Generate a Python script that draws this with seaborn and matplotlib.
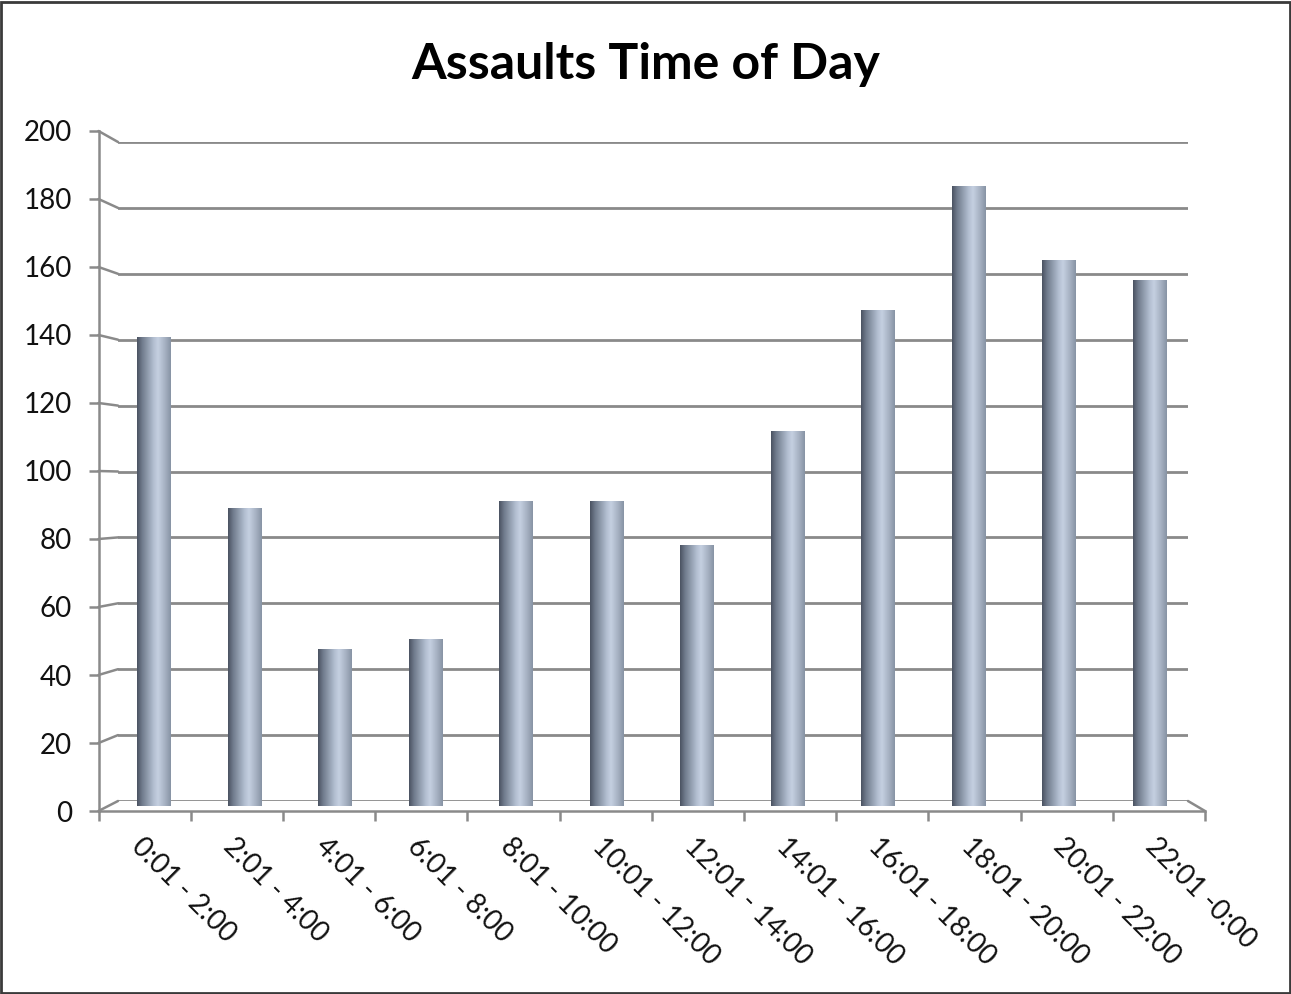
import numpy as np
import pandas as pd
import matplotlib
matplotlib.use('Agg')
import matplotlib.pyplot as plt
import seaborn as sns
from matplotlib.colors import LinearSegmentedColormap
from matplotlib.patches import ConnectionPatch, Rectangle

# data
time_slots = ['0:01 - 2:00', '2:01 - 4:00', '4:01 - 6:00', '6:01 - 8:00', '8:01 - 10:00',
              '10:01 - 12:00', '12:01 - 14:00', '14:01 - 16:00', '16:01 - 18:00',
              '18:01 - 20:00', '20:01 - 22:00', '22:01 -0:00']
assaults = [140, 89, 47, 50, 91, 91, 78, 112, 148, 185, 163, 157]
y_ticks = list(range(0, 201, 20))

sns.set_theme(style='white')
plt.rcParams['font.family'] = ['Lato', 'DejaVu Sans']

W, H = 1291, 994
fig = plt.figure(figsize=(W / 100, H / 100), dpi=100)
fig.patch.set_facecolor('white')

def box(l, r, b, t):
    # pixel edges -> figure fraction rect
    return [l / W, 1 - b / H, (r - l) / W, (b - t) / H]

grid_col = '#8a8a8a'
text_col = '#111111'

# back wall with the gridlines (Excel style pseudo 3D)
ax_back = fig.add_axes(box(118, 1188, 801, 142))
ax_back.set_facecolor('none')
for s in ax_back.spines.values():
    s.set_visible(False)
ax_back.set_xticks([])
ax_back.set_yticks(y_ticks)
ax_back.set_ylim(0, 200)
ax_back.tick_params(left=False, labelleft=False)
ax_back.grid(axis='y', color=grid_col, lw=2)

# bars sit in the middle plane
ax_bar = fig.add_axes(box(108.75, 1194.75, 806, 136))
ax_bar.set_facecolor('none')
df = pd.DataFrame({'slot': time_slots, 'count': assaults})
sns.barplot(data=df, x='slot', y='count', ax=ax_bar, width=0.375, color='#9aa5b6',
            saturation=1, edgecolor='none')

cyl = LinearSegmentedColormap.from_list('cyl', [
    (0.0, '#4a5261'), (0.15, '#707b8c'), (0.5, '#b4c0d2'),
    (0.62, '#c5d0e1'), (0.85, '#a2adbe'), (1.0, '#8793a4')])
grad = np.linspace(0, 1, 256).reshape(1, -1)
for p in list(ax_bar.patches):
    x0, w, h = p.get_x(), p.get_width(), p.get_height()
    im = ax_bar.imshow(grad, cmap=cyl, extent=(x0, x0 + w, 0, h), aspect='auto',
                       origin='lower', zorder=p.get_zorder() + 0.1)
    im.set_clip_path(p)
ax_bar.set_xlim(-0.5, len(time_slots) - 0.5)
ax_bar.set_ylim(0, 200)
ax_bar.axis('off')

# front axis: spines, ticks and labels
ax_front = fig.add_axes(box(98.5, 1205, 811, 131))
ax_front.set_facecolor('none')
ax_front.set_xlim(-0.5, len(time_slots) - 0.5)
ax_front.set_ylim(0, 200)
for s in ['top', 'right']:
    ax_front.spines[s].set_visible(False)
for s in ['left', 'bottom']:
    ax_front.spines[s].set_color(grid_col)
    ax_front.spines[s].set_linewidth(1.8)
ax_front.set_yticks(y_ticks)
ax_front.set_yticklabels([str(v) for v in y_ticks], color=text_col)
ax_front.set_xticks(np.arange(-0.5, len(time_slots), 1))
ax_front.set_xticklabels([])
ax_front.set_xticks(range(len(time_slots)), minor=True)
ax_front.set_xticklabels(time_slots, minor=True, rotation=-45, ha='left', va='top',
                         rotation_mode='anchor', fontsize=20, color=text_col)
ax_front.tick_params(axis='x', which='major', bottom=True, length=7, width=1.8,
                     color=grid_col, direction='out')
ax_front.tick_params(axis='x', which='minor', bottom=True, length=0, pad=16)
ax_front.tick_params(axis='y', left=True, length=7, width=1.8, color=grid_col,
                     direction='out', labelsize=20, pad=12)
ax_front.grid(False)

# little slanted connectors between front ticks and back gridlines
for v in y_ticks:
    con = ConnectionPatch(xyA=(0, v), coordsA=ax_front.get_yaxis_transform(),
                          xyB=(0, v), coordsB=ax_back.get_yaxis_transform(),
                          color=grid_col, lw=1.8)
    fig.add_artist(con)
con = ConnectionPatch(xyA=(1, 0), coordsA=ax_back.transAxes, xyB=(1, 0),
                      coordsB=ax_front.transAxes, color=grid_col, lw=1.8)
fig.add_artist(con)

fig.text(0.5, 1 - 79 / H, 'Assaults Time of Day', ha='center', va='baseline',
         fontsize=36, fontweight='bold', color='black')

# frame round the whole picture
fig.add_artist(Rectangle((1.5 / W, 1.5 / H), (W - 3) / W, (H - 3) / H,
                         transform=fig.transFigure, fill=False,
                         edgecolor='#3a3a3a', lw=2))

fig.savefig('out.png', dpi=100)
